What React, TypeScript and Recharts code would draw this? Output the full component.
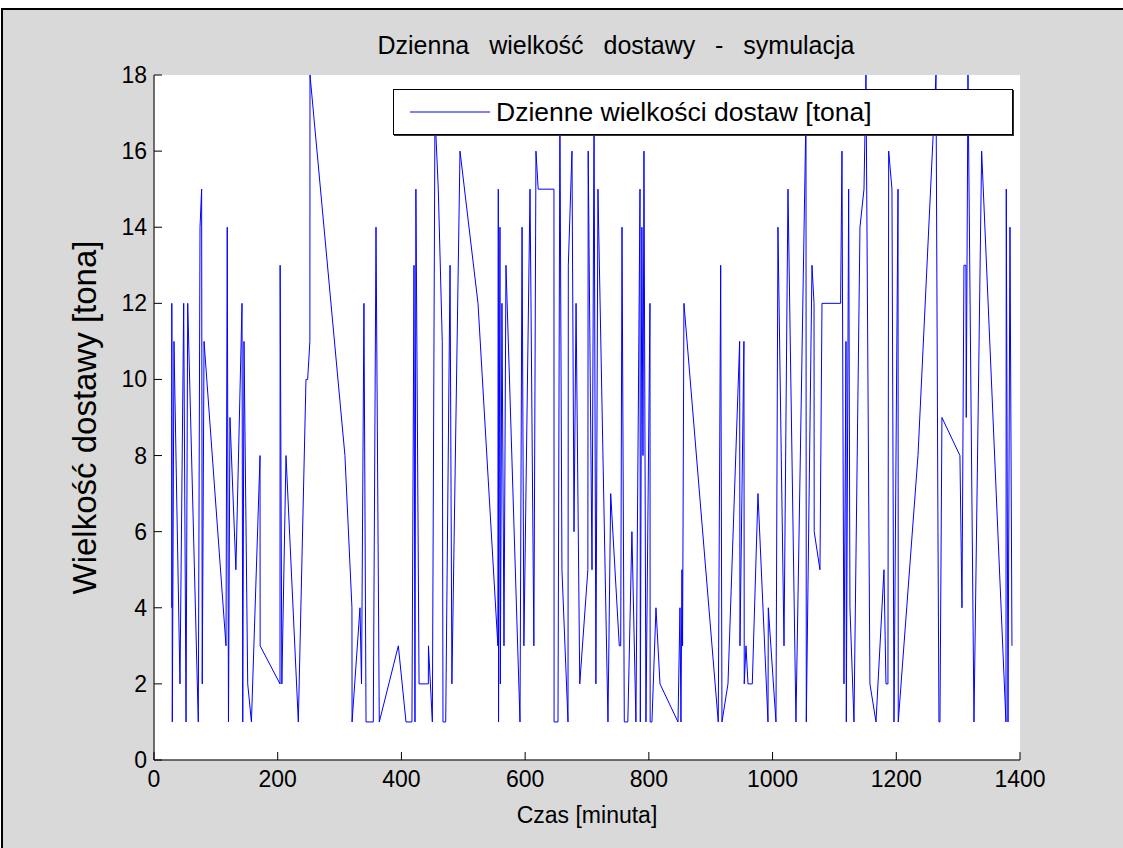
import React from "react";
import { LineChart, Line, XAxis, YAxis, CartesianGrid, Legend } from "recharts";

// czas dostawy [minuta]
const czas = [
  28.6, 28.8, 29.6, 32.3, 42, 48, 51.8, 54.5, 71.6, 74.4, 77, 78, 80.9, 116.4, 118.4, 120.4, 122.8, 132.4,
  142.3, 143.5, 145.5, 151.5, 157.5, 171.4, 171.6, 203.7, 203.9, 206.7, 213.4, 233.3, 245.7, 248.4, 252,
  252.2, 308.7, 320, 320.2, 333, 335.5, 339.4, 342.8, 354.5, 358.9, 364.2, 395, 407.4, 417, 420.3, 421.9,
  423.4, 428.5, 443.5, 443.7, 450, 454.2, 459.6, 466, 467.2, 471.6, 478.6, 481.6, 494.7, 523.8, 555.9,
  556.6, 557, 559.3, 559.9, 562.5, 565.8, 569, 591.7, 595, 598, 607.9, 614.1, 617.5, 621.1, 646.6, 646.8,
  653.1, 656.2, 659.5, 669.3, 669.8, 675.7, 679, 682.3, 688.3, 701.4, 701.9, 708.1, 711.4, 714.4, 717.7,
  733.9, 738.3, 752.2, 754.5, 756.6, 760.3, 766, 772.6, 779.1, 785.7, 786.2, 788.7, 790.5, 792.1, 795.3,
  801.8, 802.1, 805, 811.5, 818, 847.1, 850.3, 851.9, 853.5, 854.5, 856.7, 912.2, 916.1, 918.2, 927.9,
  946.8, 947.3, 953.7, 954.2, 957, 960.3, 967.2, 976.4, 992.6, 993.1, 1005.5, 1008.7, 1018.5, 1024.9,
  1037.8, 1054, 1054.5, 1063.7, 1067, 1067.3, 1076.6, 1079.9, 1110, 1112.2, 1115.4, 1118.7, 1119.2, 1123,
  1125.1, 1131.6, 1141.3, 1147.8, 1151, 1157.4, 1167.2, 1180.1, 1183.3, 1186.5, 1187.7, 1193, 1196.3,
  1202.8, 1203.2, 1235.1, 1264.2, 1267.4, 1269, 1270.6, 1273.8, 1302.9, 1306.2, 1309.4, 1312.6, 1313.1,
  1315.9, 1325.6, 1338, 1377.3, 1377.8, 1380.6, 1383.8, 1387,
];

// wielkość dostawy [tona]
const tony = [
  4, 12, 1, 11, 2, 12, 1, 12, 1, 14, 15, 2, 11, 3, 14, 1, 9, 5,
  12, 1, 11, 2, 1, 8, 3, 2, 13, 2, 8, 1, 10, 10, 11,
  18, 8, 4, 1, 4, 2, 12, 1, 1, 14, 1, 3, 1, 1, 13, 1,
  15, 2, 2, 3, 1, 17, 15, 11, 1, 1, 13, 2, 16, 12, 3,
  15, 1, 14, 2, 12, 3, 13, 1, 14, 3, 15, 3, 16, 15, 15, 1,
  1, 17, 5, 1, 13, 16, 6, 12, 2, 5, 16, 5, 17, 2, 15,
  1, 7, 3, 3, 14, 1, 1, 6, 1, 15, 1, 14, 8, 16, 1,
  12, 1, 1, 4, 2, 1, 4, 1, 5, 3, 12, 1, 13, 1, 2,
  11, 3, 11, 2, 3, 2, 2, 7, 1, 4, 1, 14, 3, 15,
  1, 17, 1, 13, 12, 6, 5, 12, 12, 16, 2, 11, 1, 15,
  4, 1, 14, 15, 18, 2, 1, 5, 2, 2, 16, 15, 1,
  15, 1, 8, 18, 6, 1, 1, 9, 8, 4, 13, 13, 9,
  18, 1, 16, 1, 15, 1, 14, 3,
];

const xTicks = [0, 200, 400, 600, 800, 1000, 1200, 1400];
const yTicks = [0, 2, 4, 6, 8, 10, 12, 14, 16, 18];

const seriesName = "Dzienne wielkości dostaw [tona]";
const title = "Dzienna  wielkość  dostawy  -  symulacja";

const data = czas.map((t, i) => ({ t, v: tony[i] }));

const FONT = "'Liberation Sans', Arial, Helvetica, sans-serif";
const TICK = 8;

function YTick({ x, y, payload }: any) {
  return (
    <g>
      <line x1={x + 7} x2={x + 7 + TICK} y1={y} y2={y} stroke="#000" />
      <text x={x} y={y} textAnchor="end" dominantBaseline="central" fontFamily={FONT} fontSize={23} fill="#000">
        {payload.value}
      </text>
    </g>
  );
}

function XTick({ x, y, payload }: any) {
  return (
    <g>
      <line x1={x} x2={x} y1={y - 10} y2={y - 10 - TICK} stroke="#000" />
      <text x={x} y={y} dy="0.75em" textAnchor="middle" fontFamily={FONT} fontSize={23} fill="#000">
        {payload.value}
      </text>
    </g>
  );
}

function LegendBox({ payload }: any) {
  const label = payload && payload[0] ? payload[0].value : seriesName;
  return (
    <div
      style={{
        boxSizing: "border-box",
        width: 620,
        height: 46,
        background: "#fff",
        border: "1px solid #000",
        boxShadow: "1px 1px 0 #333",
        display: "flex",
        alignItems: "center",
        fontFamily: FONT,
        fontSize: 26.5,
        color: "#000",
        whiteSpace: "nowrap",
      }}
    >
      <svg width={102} height={20} style={{ flex: "none" }}>
        <line x1={16} x2={96} y1={10} y2={10} stroke="#0000ff" strokeWidth={1} />
      </svg>
      <span>{label}</span>
    </div>
  );
}

export default function App() {
  return (
    <div
      style={{
        position: "absolute",
        left: 0,
        top: 0,
        width: 1123,
        height: 848,
        background: "#fff",
        overflow: "hidden",
      }}
    >
      <div
        style={{
          position: "absolute",
          left: 1,
          top: 8,
          width: 1140,
          height: 860,
          boxSizing: "border-box",
          borderTop: "2px solid #000",
          borderLeft: "2px solid #000",
          background: "#d9d9d9",
        }}
      />
      <div
        style={{
          position: "absolute",
          left: 316,
          top: 31,
          width: 600,
          textAlign: "center",
          whiteSpace: "pre",
          wordSpacing: 3,
          fontFamily: FONT,
          fontSize: 25,
          color: "#000",
        }}
      >
        {title}
      </div>
      <div style={{ position: "absolute", left: 0, top: 0 }}>
        <LineChart width={1123} height={848} data={data} margin={{ top: 75, right: 103, bottom: 23, left: 0 }}>
          <CartesianGrid horizontal={false} vertical={false} fill="#fff" />
          <XAxis
            dataKey="t"
            type="number"
            domain={[0, 1400]}
            ticks={xTicks}
            height={65}
            tickSize={0}
            tickMargin={10}
            tickLine={false}
            tick={<XTick />}
            axisLine={{ stroke: "#404040", strokeWidth: 1.5 }}
            label={(p: any) => (
              <text
                x={p.viewBox.x + p.viewBox.width / 2}
                y={815}
                textAnchor="middle"
                dominantBaseline="central"
                fontFamily={FONT}
                fontSize={23}
                fill="#000"
              >
                Czas [minuta]
              </text>
            )}
          />
          <XAxis
            xAxisId="top"
            orientation="top"
            type="number"
            domain={[0, 1400]}
            height={0}
            tick={false}
            tickLine={false}
            axisLine={{ stroke: "#e4e4e4", strokeWidth: 2 }}
          />
          <YAxis
            type="number"
            domain={[0, 18]}
            ticks={yTicks}
            width={154}
            tickSize={0}
            tickMargin={7}
            tickLine={false}
            tick={<YTick />}
            axisLine={{ stroke: "#404040", strokeWidth: 1.5 }}
            label={(p: any) => (
              <text
                x={84}
                y={p.viewBox.y + p.viewBox.height / 2}
                transform={`rotate(-90 84 ${p.viewBox.y + p.viewBox.height / 2})`}
                textAnchor="middle"
                dominantBaseline="central"
                fontFamily={FONT}
                fontSize={33}
                fill="#000"
              >
                Wielkość dostawy [tona]
              </text>
            )}
          />
          <YAxis
            yAxisId="right"
            orientation="right"
            type="number"
            domain={[0, 18]}
            width={0}
            tick={false}
            tickLine={false}
            axisLine={{ stroke: "#e4e4e4", strokeWidth: 2 }}
          />
          <Legend
            layout="vertical"
            align="center"
            verticalAlign="middle"
            wrapperStyle={{ left: 393, top: 89, width: 620, height: 46 }}
            content={<LegendBox />}
          />
          <Line
            type="linear"
            dataKey="v"
            name={seriesName}
            stroke="#0000ff"
            strokeWidth={1}
            dot={false}
            activeDot={false}
            isAnimationActive={false}
          />
        </LineChart>
      </div>
    </div>
  );
}
